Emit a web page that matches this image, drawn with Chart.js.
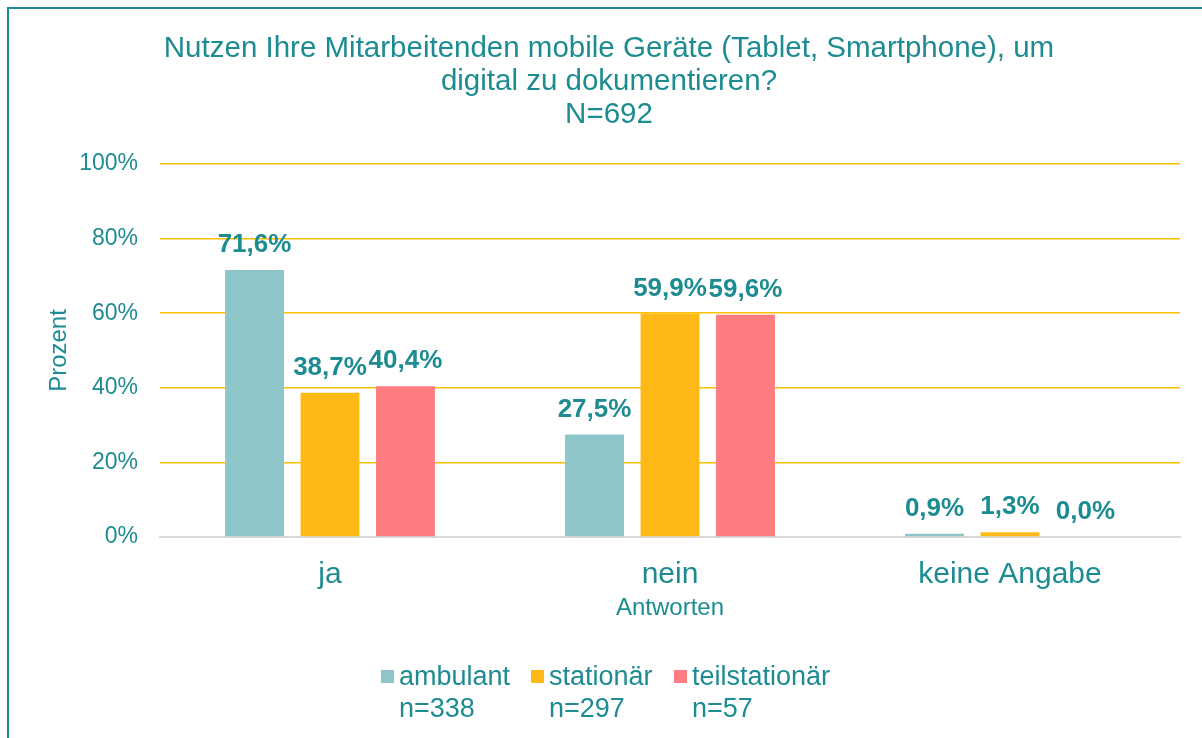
<!DOCTYPE html>
<html lang="de">
<head>
    <meta charset="UTF-8">
    <title>Mobile Geräte</title>
    <script src="https://cdn.jsdelivr.net/npm/chart.js"></script>
    <style>
        body { margin: 0; background: #fff; font-family: "Liberation Sans", Arial, sans-serif; }
        #wrap { position: relative; width: 1202px; height: 738px; overflow: hidden; }
        #frame { position: absolute; left: 7px; top: 7px; width: 1300px; height: 900px; border: 2px solid #1D8C92; }
        #chart { position: absolute; left: 0; top: 0; }
        .leg { position: absolute; top: 660px; color: #1D8C92; font-size: 27px; line-height: 32px; }
        .leg span { position: absolute; left: 0; top: 10px; width: 13px; height: 13px; }
        .leg div { margin-left: 18px; white-space: nowrap; }
    </style>
</head>
<body>
<div id="wrap">
    <div id="frame"></div>
    <canvas id="chart" width="1202" height="738"></canvas>
    <div id="legend"></div>
</div>
<script>
    const titleLines = ["Nutzen Ihre Mitarbeitenden mobile Geräte (Tablet, Smartphone), um", "digital zu dokumentieren?", "N=692"];
    const categories = ["ja", "nein", "keine Angabe"];
    const seriesNames = ["ambulant", "stationär", "teilstationär"];
    const seriesN = ["n=338", "n=297", "n=57"];
    const ambulant = [71.6, 27.5, 0.9];
    const stationaer = [38.7, 59.9, 1.3];
    const teilstationaer = [40.4, 59.6, 0.0];
    const colors = ["#8DC5C9", "#FEB917", "#FF7C80"];
    const teal = "#1D8C92";
    const fontFam = "'Liberation Sans', Arial, sans-serif";

    // Werte ueber den Balken
    const valueLabels = {
        id: "valueLabels",
        afterDatasetsDraw(chart) {
            const ctx = chart.ctx;
            ctx.save();
            ctx.font = "bold 26px " + fontFam;
            ctx.fillStyle = teal;
            ctx.textAlign = "center";
            ctx.textBaseline = "middle";
            chart.data.datasets.forEach((ds, i) => {
                chart.getDatasetMeta(i).data.forEach((bar, j) => {
                    const txt = ds.data[j].toFixed(1).replace(".", ",") + "%";
                    ctx.fillText(txt, bar.x, bar.y - 25);
                });
            });
            ctx.restore();
        }
    };

    new Chart(document.getElementById("chart"), {
        type: "bar",
        data: {
            labels: categories,
            datasets: [
                { label: seriesNames[0], data: ambulant, backgroundColor: colors[0] },
                { label: seriesNames[1], data: stationaer, backgroundColor: colors[1] },
                { label: seriesNames[2], data: teilstationaer, backgroundColor: colors[2] }
            ]
        },
        options: {
            responsive: false,
            animation: false,
            categoryPercentage: 0.666,
            barPercentage: 0.78,
            layout: { padding: { left: 38, right: 22, top: 0, bottom: 115 } },
            plugins: {
                legend: { display: false },
                tooltip: { enabled: false },
                title: {
                    display: true,
                    text: titleLines,
                    color: teal,
                    font: { family: fontFam, size: 29.5, weight: "normal", lineHeight: 1.1186 },
                    padding: { top: 32, bottom: 33 }
                }
            },
            scales: {
                x: {
                    grid: { display: false },
                    border: { color: "#D9D9D9", width: 2 },
                    ticks: { color: teal, padding: 12, font: { family: fontFam, size: 30 } },
                    title: {
                        display: true, text: "Antworten", color: teal,
                        padding: { top: 0, bottom: 0 },
                        font: { family: fontFam, size: 24 }
                    },
                    afterFit(scale) { scale.height = 86; }
                },
                y: {
                    min: 0, max: 100,
                    border: { display: false },
                    grid: {
                        drawTicks: false,
                        lineWidth: 1.5,
                        color: c => c.tick.value === 0 ? "rgba(0,0,0,0)" : "#FFC000"
                    },
                    ticks: {
                        stepSize: 20, padding: 22, color: teal,
                        font: { family: fontFam, size: 23 },
                        callback: v => v + "%"
                    },
                    title: {
                        display: true, text: "Prozent", color: teal,
                        padding: { top: 7, bottom: 0 },
                        font: { family: fontFam, size: 24 }
                    },
                    afterFit(scale) { scale.width = 122; }
                }
            }
        },
        plugins: [valueLabels]
    });

    // Legende mit zweizeiligen Eintraegen
    const legX = [381, 531, 674];
    const legend = document.getElementById("legend");
    seriesNames.forEach((name, i) => {
        const el = document.createElement("div");
        el.className = "leg";
        el.style.left = legX[i] + "px";
        el.innerHTML = '<span style="background:' + colors[i] + '"></span><div>' + name + '</div><div>' + seriesN[i] + '</div>';
        legend.appendChild(el);
    });
</script>
</body>
</html>
